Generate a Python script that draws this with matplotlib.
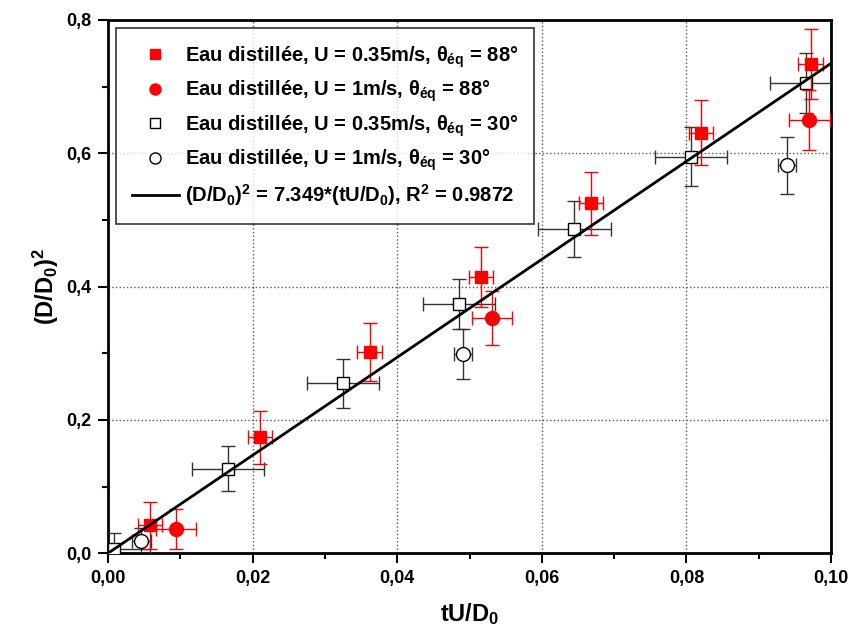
import numpy as np
import matplotlib
matplotlib.use('Agg')
import matplotlib.pyplot as plt
from matplotlib.lines import Line2D
from matplotlib.ticker import MultipleLocator, FuncFormatter

plt.rcParams.update({'font.family': 'Liberation Sans', 'font.weight': 'bold',
                     'mathtext.fontset': 'custom', 'mathtext.rm': 'Liberation Sans:bold',
                     'mathtext.it': 'Liberation Sans:bold', 'mathtext.bf': 'Liberation Sans:bold'})
RED = '#ff0000'

# U = 0.35 m/s, theta = 88 (red squares)
x_sq88 = [0.0058, 0.0210, 0.0362, 0.0516, 0.0668, 0.0820, 0.0972]
y_sq88 = [0.042, 0.174, 0.302, 0.414, 0.525, 0.631, 0.734]
xe_sq88 = [0.0017] * 7
ye_sq88 = [0.035, 0.040, 0.044, 0.045, 0.047, 0.049, 0.052]
# U = 1 m/s, theta = 88 (red circles)
x_ci88 = [0.0094, 0.0531, 0.0970]
y_ci88 = [0.036, 0.353, 0.650]
xe_ci88 = [0.0028, 0.0028, 0.0028]
ye_ci88 = [0.030, 0.040, 0.045]
# U = 0.35 m/s, theta = 30 (open squares)
x_sq30 = [0.0008, 0.0166, 0.0325, 0.0485, 0.0645, 0.0806, 0.0965]
y_sq30 = [0.006, 0.127, 0.255, 0.374, 0.487, 0.595, 0.706]
xe_sq30 = [0.005] * 7
ye_sq30 = [0.025, 0.034, 0.037, 0.038, 0.042, 0.044, 0.045]
# U = 1 m/s, theta = 30 (open circles)
x_ci30 = [0.0046, 0.0491, 0.0939]
y_ci30 = [0.018, 0.299, 0.582]
xe_ci30 = [0.0013, 0.0013, 0.0013]
ye_ci30 = [0.020, 0.037, 0.043]
slope = 7.349

fig = plt.figure(figsize=(8.51, 6.44), dpi=100)
ax = fig.add_axes([0.127, 0.141, 0.8495, 0.828])

th = r'$\theta_{\mathrm{éq}}$'
ebk = dict(elinewidth=1.0, capsize=5, capthick=1.0, linestyle='none')
ax.errorbar(x_sq30, y_sq30, xerr=xe_sq30, yerr=ye_sq30, fmt='s', ms=9, mfc='white', mec='black',
            mew=1.0, ecolor='#333333', zorder=3, **ebk)
ax.errorbar(x_ci30, y_ci30, xerr=xe_ci30, yerr=ye_ci30, fmt='o', ms=10, mfc='white', mec='black',
            mew=1.0, ecolor='#333333', zorder=3, **ebk)
ax.errorbar(x_sq88, y_sq88, xerr=xe_sq88, yerr=ye_sq88, fmt='s', ms=9, color=RED,
            ecolor=RED, zorder=4, **ebk)
ax.errorbar(x_ci88, y_ci88, xerr=xe_ci88, yerr=ye_ci88, fmt='o', ms=10, color=RED,
            ecolor=RED, zorder=4, **ebk)
xs = np.array([0.0, 0.1])
ax.plot(xs, slope * xs, color='black', lw=2, zorder=5)

ax.set_xlim(0, 0.1)
ax.set_ylim(0, 0.8)
ax.xaxis.set_major_locator(MultipleLocator(0.02))
ax.xaxis.set_minor_locator(MultipleLocator(0.01))
ax.yaxis.set_major_locator(MultipleLocator(0.2))
ax.yaxis.set_minor_locator(MultipleLocator(0.1))
ax.xaxis.set_major_formatter(FuncFormatter(lambda v, p: f'{v:.2f}'.replace('.', ',')))
ax.yaxis.set_major_formatter(FuncFormatter(lambda v, p: f'{v:.1f}'.replace('.', ',')))
ax.tick_params(which='both', direction='out', width=1.5, labelsize=13)
ax.tick_params(which='major', length=7, pad=5)
ax.tick_params(which='minor', length=4)
for s in ax.spines.values():
    s.set_linewidth(2)
ax.grid(True, which='major', ls=':', color='#555555', lw=1)
ax.set_xlabel(r'tU/D$_0$', fontsize=17, fontweight='bold', labelpad=10)
ax.set_ylabel(r'(D/D$_0$)$^2$', fontsize=17, fontweight='bold', labelpad=4)

handles = [
    Line2D([], [], ls='none', marker='s', ms=7, color=RED),
    Line2D([], [], ls='none', marker='o', ms=8, color=RED),
    Line2D([], [], ls='none', marker='s', ms=7, mfc='white', mec='black', mew=1),
    Line2D([], [], ls='none', marker='o', ms=8, mfc='white', mec='black', mew=1),
    Line2D([], [], color='black', lw=2),
]
labels = [
    'Eau distillée, U = 0.35m/s, ' + th + ' = 88°',
    'Eau distillée, U = 1m/s, ' + th + ' = 88°',
    'Eau distillée, U = 0.35m/s, ' + th + ' = 30°',
    'Eau distillée, U = 1m/s, ' + th + ' = 30°',
    r'(D/D$_0$)$^2$ = 7.349*(tU/D$_0$), R$^2$ = 0.9872',
]
leg = ax.legend(handles, labels, loc='upper left', fontsize=14.5, frameon=True,
                fancybox=False, edgecolor='black', borderpad=0.8, labelspacing=0.45,
                handlelength=2.3, handletextpad=0.3, borderaxespad=0.4)
leg.get_frame().set_linewidth(1.2)
leg.set_zorder(10)
fig.savefig('out.png')
